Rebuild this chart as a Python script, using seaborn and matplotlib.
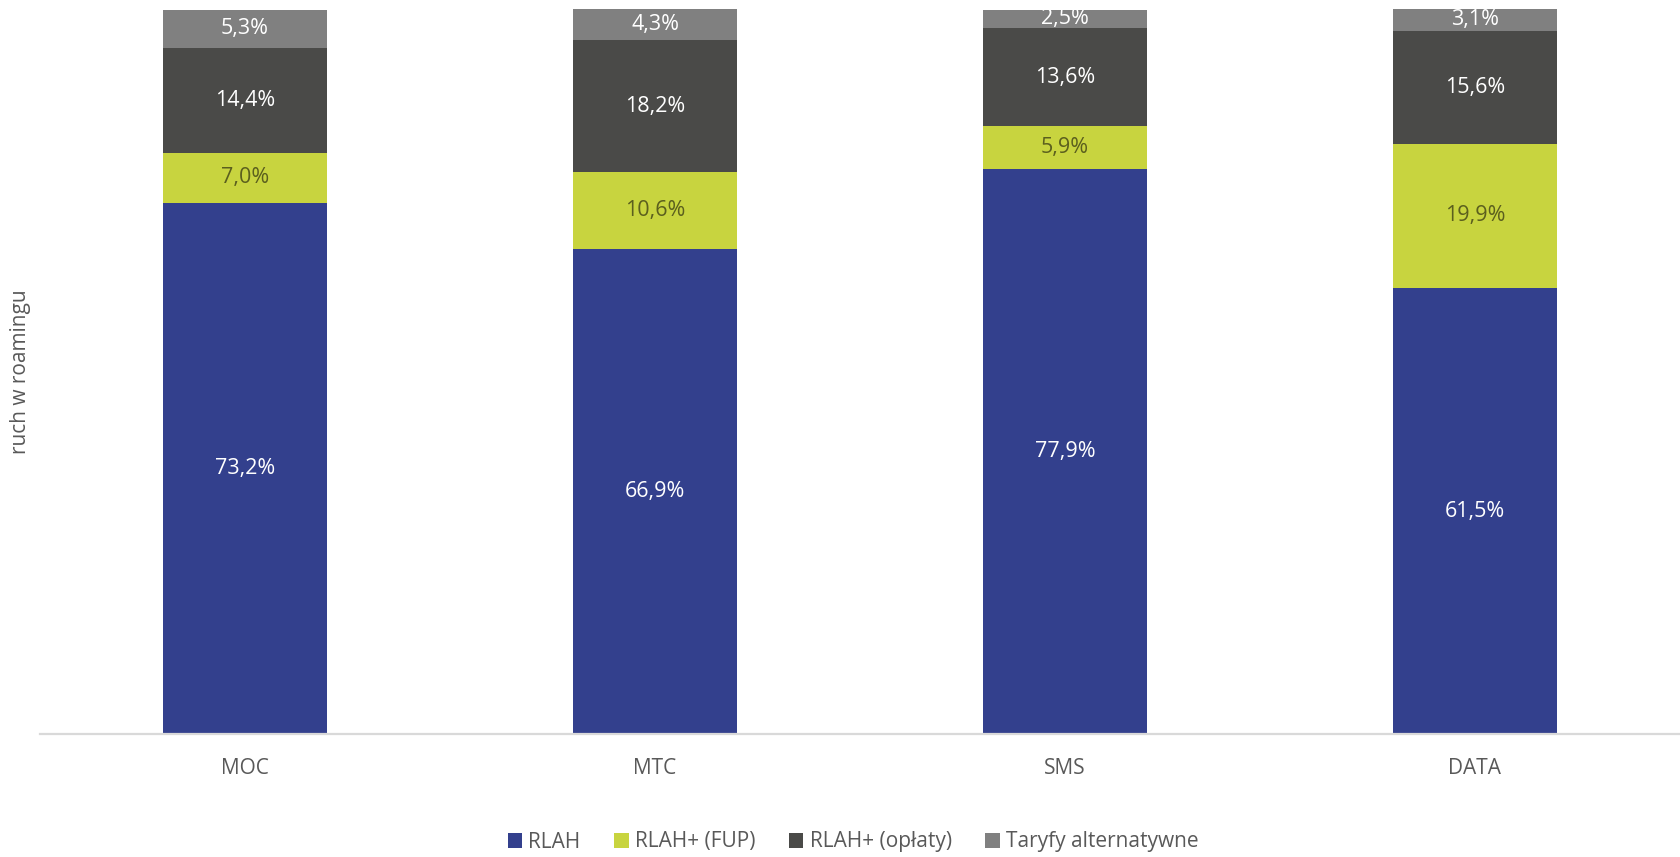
import pandas as pd
import matplotlib.pyplot as plt
import seaborn as sns
from matplotlib.patches import Patch

# dane (%)
categories = ['MOC', 'MTC', 'SMS', 'DATA']
series_names = ['RLAH', 'RLAH+ (FUP)', 'RLAH+ (opłaty)', 'Taryfy alternatywne']
rlah = [73.2, 66.9, 77.9, 61.5]
rlah_fup = [7.0, 10.6, 5.9, 19.9]
rlah_oplaty = [14.4, 18.2, 13.6, 15.6]
taryfy_alt = [5.3, 4.3, 2.5, 3.1]

colors = ['#33408D', '#C8D43F', '#4A4A48', '#808080']
label_colors = ['white', '#5B5F1E', 'white', 'white']
text_gray = '#595959'

sns.set_theme(style='white')
plt.rcParams['font.family'] = ['Open Sans', 'DejaVu Sans']

values = [rlah, rlah_fup, rlah_oplaty, taryfy_alt]
df = pd.DataFrame({'kategoria': categories})
for name, vals in zip(series_names, values):
    df[name] = vals

fig = plt.figure(figsize=(16.8, 8.57), dpi=100)
ax = fig.add_axes([40 / 1680, 1 - 734 / 857, 1 - 40 / 1680, 725 / 857])

bottom = [0.0] * len(categories)
for name, col, lcol in zip(series_names, colors, label_colors):
    sns.barplot(data=df, x='kategoria', y=name, bottom=bottom, color=col,
                width=0.4, ax=ax, saturation=1, edgecolor='none')
    for i, v in enumerate(df[name]):
        ax.text(i, bottom[i] + v / 2, f'{v:.1f}%'.replace('.', ','),
                ha='center', va='center', color=lcol, fontsize=15.5)
    bottom = [b + v for b, v in zip(bottom, df[name])]

ax.set_xlim(-0.5, 3.5)
ax.set_ylim(0, 100)
ax.set_yticks([])
ax.set_xlabel('')
ax.set_ylabel('')
for s in ['top', 'right', 'left']:
    ax.spines[s].set_visible(False)
ax.spines['bottom'].set_color('#D9D9D9')
ax.spines['bottom'].set_linewidth(1.6)
ax.tick_params(axis='x', length=0, pad=17, labelsize=15, labelcolor=text_gray)

fig.text(21 / 1680, 1 - 372 / 857, 'ruch w roamingu', rotation=90,
         ha='center', va='center', fontsize=15, color=text_gray)

handles = [Patch(facecolor=c, edgecolor='none') for c in colors]
fig.legend(handles, series_names, loc='center', bbox_to_anchor=(853 / 1680, 1 - 842 / 857),
           ncol=4, frameon=False, fontsize=15, labelcolor=text_gray,
           handlelength=0.7, handleheight=0.7, handletextpad=0.3, columnspacing=1.6)

fig.savefig('out.png', dpi=100)
